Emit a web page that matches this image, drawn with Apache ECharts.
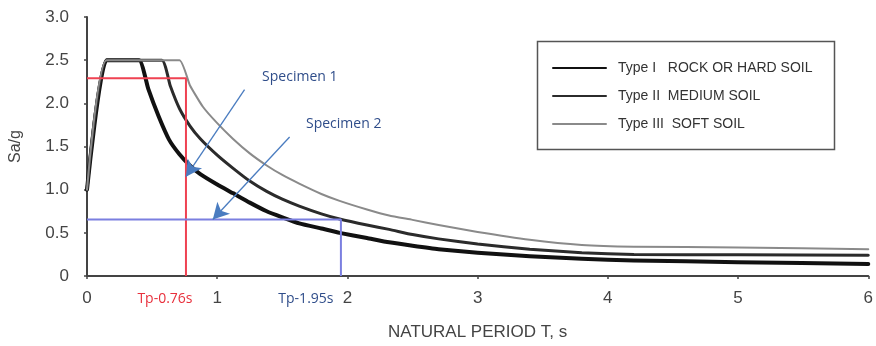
<!DOCTYPE html>
<html>
<head>
<meta charset="utf-8">
<script src="https://cdn.jsdelivr.net/npm/echarts@6/dist/echarts.min.js"></script>
<style>
  html, body { margin: 0; padding: 0; background: #ffffff; }
  #chart { width: 876px; height: 346px; }
</style>
</head>
<body>
<div id="chart"></div>
<script>
// Design acceleration spectra (Sa/g against natural period T, s) for three soil types
const periodsI   = [0, 0.15, 0.40, 0.47, 0.55, 0.63, 0.71, 0.79, 0.87, 1.00, 1.12, 1.25, 1.38, 1.50, 1.63, 1.80, 1.94, 2.15, 2.32, 2.50, 2.70, 3.00, 3.40, 3.80, 4.20, 5.00, 6.00];
const saI        = [1.0, 2.5, 2.5, 2.17, 1.85, 1.58, 1.41, 1.28, 1.18, 1.06, 0.96, 0.85, 0.75, 0.68, 0.61, 0.55, 0.50, 0.44, 0.39, 0.35, 0.31, 0.27, 0.23, 0.20, 0.18, 0.16, 0.14];

const periodsII  = [0, 0.15, 0.575, 0.64, 0.71, 0.79, 0.87, 1.00, 1.12, 1.25, 1.38, 1.50, 1.63, 1.80, 1.94, 2.15, 2.32, 2.50, 2.70, 3.00, 3.40, 3.80, 4.20, 5.00, 6.00];
const saII       = [1.0, 2.5, 2.5, 2.20, 1.94, 1.74, 1.59, 1.40, 1.25, 1.10, 0.98, 0.89, 0.81, 0.72, 0.66, 0.59, 0.54, 0.48, 0.43, 0.37, 0.31, 0.27, 0.25, 0.245, 0.24];

const periodsIII = [0, 0.15, 0.71, 0.79, 0.89, 1.00, 1.12, 1.25, 1.38, 1.50, 1.63, 1.80, 1.94, 2.15, 2.32, 2.50, 2.70, 3.00, 3.40, 3.80, 4.20, 5.00, 6.00];
const saIII      = [1.0, 2.5, 2.5, 2.21, 1.96, 1.77, 1.59, 1.42, 1.28, 1.17, 1.07, 0.95, 0.87, 0.77, 0.70, 0.65, 0.59, 0.51, 0.42, 0.36, 0.34, 0.33, 0.31];

const seriesNames = ['Type I   ROCK OR HARD SOIL', 'Type II  MEDIUM SOIL', 'Type III  SOFT SOIL'];

// Fundamental periods of the two specimens and their read-off spectral levels
const specimenTp    = [0.76, 1.95];
const specimenLevel = [2.29, 0.655];
const specimenNames = ['Specimen 1', 'Specimen 2'];

const pairs = (xs, ys) => xs.map((x, i) => [x, ys[i]]);

const chart = echarts.init(document.getElementById('chart'), null, { renderer: 'canvas' });

const axisText = { color: '#444', fontFamily: 'Liberation Sans, Arial, sans-serif', fontSize: 17 };
const noteFont = "'Open Sans', sans-serif";
const arrowColor = '#4a7cc0';

const spectrum = (name, data, width, color) => ({
  name, type: 'line', data, showSymbol: false, symbol: 'none',
  smooth: 0.15, z: 2, silent: true,
  lineStyle: { width, color, join: 'round', cap: 'round' },
  itemStyle: { color }
});

const guide = (idx, color, labelColor, labelShift) => ({
  name: 'guide' + idx, type: 'line', z: 4, silent: true,
  symbol: 'none', showSymbol: false,
  data: [[0, specimenLevel[idx]], [specimenTp[idx], specimenLevel[idx]], [specimenTp[idx], 0]],
  lineStyle: { width: 2, color },
  markPoint: {
    silent: true, symbol: 'circle', symbolSize: 1,
    itemStyle: { color: 'rgba(0,0,0,0)' },
    data: [{
      coord: [specimenTp[idx], 0],
      label: {
        show: true, position: 'bottom', distance: 16, offset: [labelShift, 0],
        formatter: 'Tp-' + specimenTp[idx].toFixed(2) + 's',
        color: labelColor, fontFamily: noteFont, fontSize: 14
      }
    }]
  }
});

chart.setOption({
  animation: false,
  backgroundColor: '#ffffff',
  grid: { left: 87, right: 6, top: 17, bottom: 68 },
  xAxis: {
    type: 'value', min: 0, max: 6, interval: 1,
    name: 'NATURAL PERIOD T, s', nameLocation: 'middle', nameGap: 48,
    nameTextStyle: Object.assign({}, axisText, { fontSize: 17 }),
    axisLine: { show: true, lineStyle: { color: '#444', width: 2 } },
    axisTick: { show: true, length: 3, lineStyle: { color: '#444', width: 1.5 } },
    axisLabel: Object.assign({ margin: 14 }, axisText),
    splitLine: { show: false }
  },
  yAxis: {
    type: 'value', min: 0, max: 3, interval: 0.5,
    name: 'Sa/g', nameLocation: 'middle', nameGap: 63,
    nameTextStyle: Object.assign({}, axisText, { fontSize: 16 }),
    axisLine: { show: true, lineStyle: { color: '#444', width: 2 } },
    axisTick: { show: true, length: 3, lineStyle: { color: '#444', width: 1.5 } },
    axisLabel: Object.assign({ margin: 18, formatter: v => (v === 0 ? '0' : v.toFixed(1)) }, axisText),
    splitLine: { show: false }
  },
  legend: {
    data: seriesNames,
    orient: 'vertical', left: 547, top: 56,
    itemWidth: 53, itemHeight: 14, itemGap: 14,
    // plain line keys: hide the point marker drawn on each key
    itemStyle: { opacity: 0 },
    textStyle: { color: '#333', fontFamily: 'Liberation Sans, Arial, sans-serif', fontSize: 14, padding: [0, 0, 0, 7] },
    selectedMode: false
  },
  graphic: [{
    type: 'rect', left: 535, top: 39, silent: true,
    shape: { width: 297, height: 108 },
    style: { fill: 'none', stroke: '#555', lineWidth: 1.5 }
  }],
  series: [
    spectrum(seriesNames[0], pairs(periodsI, saI), 4, '#111111'),
    spectrum(seriesNames[1], pairs(periodsII, saII), 3, '#2b2b2b'),
    spectrum(seriesNames[2], pairs(periodsIII, saIII), 2, '#8a8a8a'),
    guide(0, '#ef4252', '#e8303c', -21),
    Object.assign(guide(1, '#7b7fe0', '#2f4d8a', -35), {
      markLine: {
        silent: true, symbol: ['none', 'arrow'], symbolSize: [13, 16],
        label: { show: false },
        lineStyle: { color: arrowColor, width: 1.3, type: 'solid' },
        data: [
          [{ coord: [1.21, 2.16] }, { coord: [specimenTp[0], 1.15] }],
          [{ coord: [1.556, 1.61] }, { coord: [0.966, specimenLevel[1]] }]
        ]
      }
    }),
    {
      name: 'notes', type: 'scatter', data: [], silent: true,
      markPoint: {
        silent: true, symbol: 'circle', symbolSize: 1,
        itemStyle: { color: 'rgba(0,0,0,0)' },
        label: { show: true, position: 'right', distance: 0, color: '#2f4d8a', fontFamily: noteFont, fontSize: 14 },
        data: [
          { coord: [1.341, 2.31], label: { formatter: specimenNames[0] } },
          { coord: [1.678, 1.76], label: { formatter: specimenNames[1] } }
        ]
      }
    }
  ]
});
</script>
</body>
</html>
